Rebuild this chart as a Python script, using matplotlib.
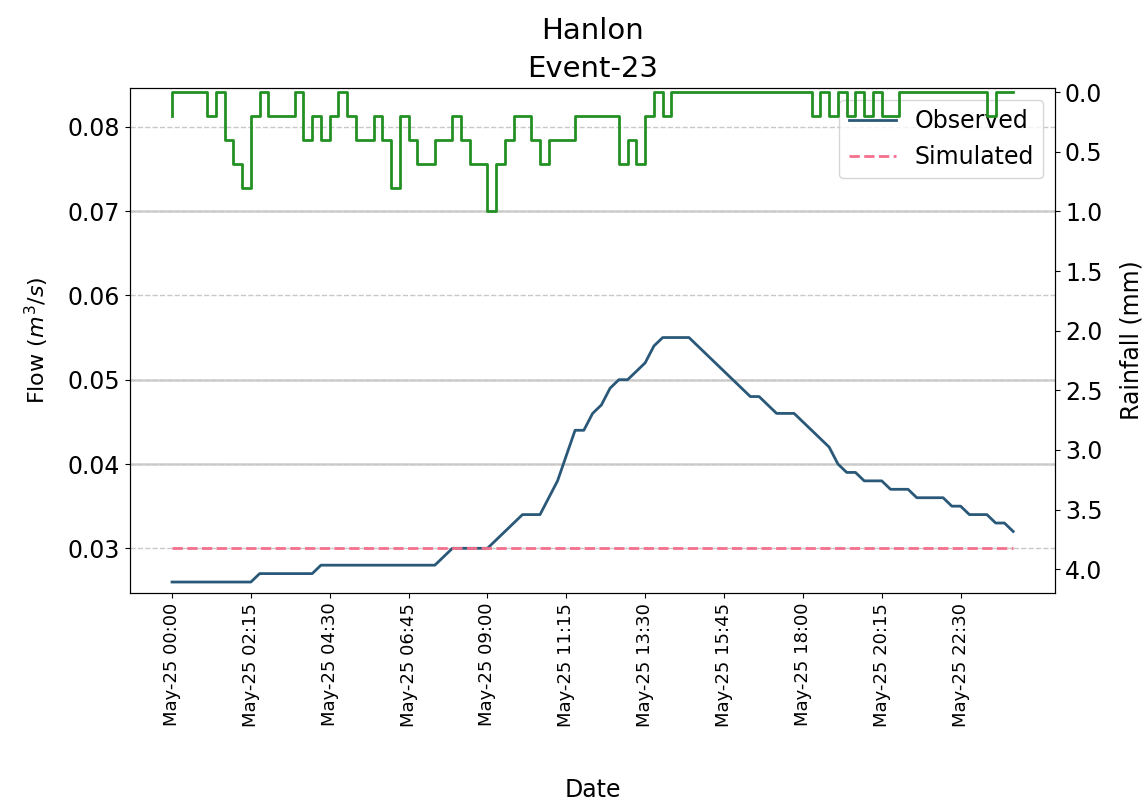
import matplotlib
matplotlib.use("Agg")
import matplotlib.pyplot as plt
import matplotlib.dates as mdates
import pandas as pd

# 15 minute data, May-25 00:00 -> May-26 00:00
dates = pd.date_range("2019-05-25 00:00", periods=97, freq="15min")

flow_obs = [0.026] * 10 + [0.027] * 7 + [0.028] * 14 + [0.029] + [0.030] * 5 + \
    [0.031, 0.032, 0.033, 0.034, 0.034, 0.034, 0.036, 0.038, 0.041, 0.044,
     0.044, 0.046, 0.047, 0.049, 0.050, 0.050, 0.051, 0.052, 0.054, 0.055,
     0.055, 0.055, 0.055, 0.054, 0.053, 0.052, 0.051, 0.050, 0.049, 0.048,
     0.048, 0.047, 0.046, 0.046, 0.046, 0.045, 0.044, 0.043, 0.042, 0.040,
     0.039, 0.039, 0.038, 0.038, 0.038, 0.037, 0.037, 0.037, 0.036, 0.036,
     0.036, 0.036, 0.035, 0.035, 0.034, 0.034, 0.034, 0.033, 0.033, 0.032]
flow_sim = [0.030] * 97

rain = [0.2, 0, 0, 0, 0, 0.2, 0, 0.4, 0.6, 0.8,
        0.2, 0, 0.2, 0.2, 0.2, 0, 0.4, 0.2, 0.4, 0.2,
        0, 0.2, 0.4, 0.4, 0.2, 0.4, 0.8, 0.2, 0.4, 0.6,
        0.6, 0.4, 0.4, 0.2, 0.4, 0.6, 0.6, 1.0, 0.6, 0.4,
        0.2, 0.2, 0.4, 0.6, 0.4, 0.4, 0.4, 0.2, 0.2, 0.2,
        0.2, 0.2, 0.6, 0.4, 0.6, 0.2, 0, 0.2] + [0] * 16 + \
       [0.2, 0, 0.2, 0, 0.2, 0, 0.2, 0, 0.2, 0.2] + [0] * 10 + [0.2, 0, 0]

solid_grid = [0.04, 0.05, 0.07]

plt.rcParams["font.size"] = 15

fig = plt.figure(figsize=(11.48, 8.08), dpi=100)
ax1 = fig.add_axes([0.1132, 0.2661, 0.806, 0.625])

ax1.grid(axis="y", color="#c8c8c8", linestyle="--", lw=1)
for g in solid_grid:
    ax1.axhline(g, color="#d0d0d0", lw=1.8, zorder=0.5)

ax1.plot(dates, flow_obs, color="#2a5878", lw=2, label="Observed")
ax1.plot(dates, flow_sim, "--", color="#f4708c", lw=2, label="Simulated")
ax1.set_ylim(0.0247, 0.0846)
ax1.set_ylabel("Flow ($m^3/s$)", fontsize=16, labelpad=12)
ax1.set_xlabel("Date", fontsize=17, labelpad=37)
ax1.legend(loc="upper right", fontsize=17)
ax1.tick_params(axis="y", labelsize=17)
ax1.tick_params(axis="x", labelsize=13)

ax1.set_xticks(dates[::9])
ax1.xaxis.set_major_formatter(mdates.DateFormatter("%b-%d %H:%M"))
plt.setp(ax1.get_xticklabels(), rotation=90)

ax2 = ax1.twinx()
ax2.step(dates, rain, where="pre", color="#239023", lw=2)
ax2.set_ylim(4.2, -0.035)
ax2.set_yticks([0, 0.5, 1.0, 1.5, 2.0, 2.5, 3.0, 3.5, 4.0])
ax2.tick_params(axis="y", labelsize=17)
ax2.set_ylabel("Rainfall (mm)", fontsize=17, labelpad=12)

ax1.set_title("Hanlon\nEvent-23", fontsize=21, pad=8, linespacing=1.45)

fig.savefig("out.png", dpi=100)
plt.close()
